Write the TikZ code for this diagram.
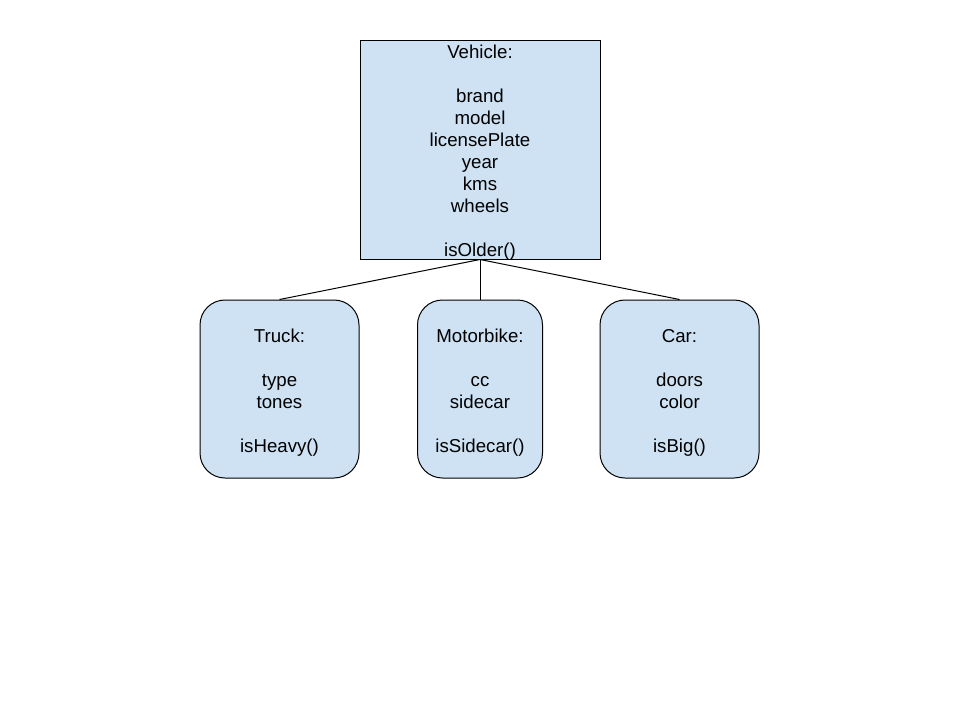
\documentclass[tikz,border=0pt]{standalone}
\usepackage{fontspec}
\setmainfont{Liberation Sans}
\definecolor{boxfill}{HTML}{CFE2F3}
\newcommand{\topup}{\rule{0pt}{20pt}}
\begin{document}
\begin{tikzpicture}[x=1pt,y=-1pt,
  cls/.style={draw=black, fill=boxfill, line width=1pt, inner sep=0pt, align=center,
    font=\fontsize{18.67}{22}\selectfont},
  sub/.style={cls, rounded corners=25pt},
  link/.style={draw=black, line width=1pt}]
\useasboundingbox (0,0) rectangle (960,720);
\node[cls, inner ysep=-6pt, minimum width=240pt, minimum height=219pt] (veh) at (480,149.5)
  {\topup Vehicle:\\\strut\\brand\\model\\licensePlate\\year\\kms\\wheels\\\strut\\isOlder()};
\node[sub, minimum width=159pt, minimum height=178pt] (truck) at (279.5,389)
  {\topup Truck:\\\strut\\type\\tones\\\strut\\isHeavy()};
\node[sub, minimum width=125pt, minimum height=178pt] (moto) at (480,389)
  {\topup Motorbike:\\\strut\\cc\\sidecar\\\strut\\isSidecar()};
\node[sub, minimum width=159pt, minimum height=178pt] (car) at (679.5,389)
  {\topup Car:\\\strut\\doors\\color\\\strut\\isBig()};
\draw[link] (veh.south) -- (truck.north);
\draw[link] (veh.south) -- (moto.north);
\draw[link] (veh.south) -- (car.north);
\end{tikzpicture}
\end{document}
